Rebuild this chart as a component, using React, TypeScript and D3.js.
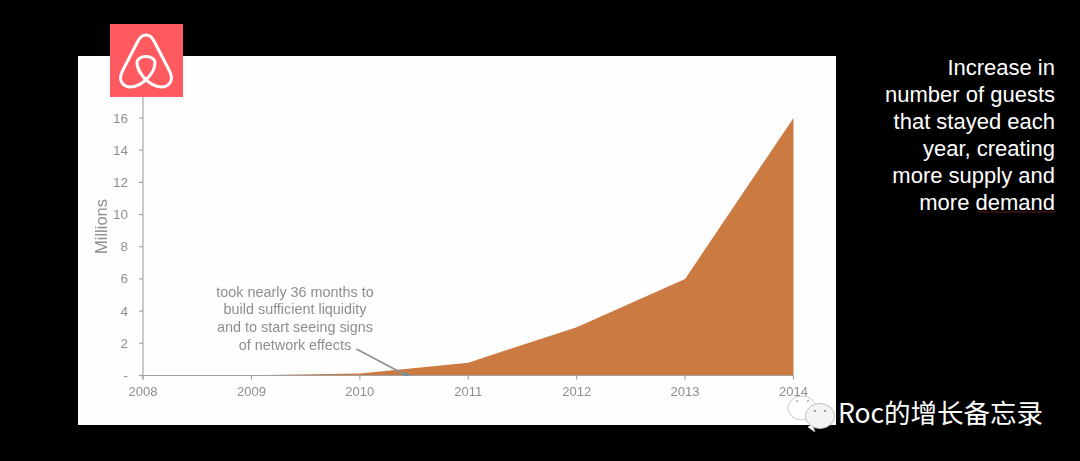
import React from "react";
import * as d3 from "d3";

const years = [2008, 2009, 2010, 2011, 2012, 2013, 2014];
const guests = [0, 0.02, 0.12, 0.8, 3, 6, 16];
const yTicks = [0, 2, 4, 6, 8, 10, 12, 14, 16];
const noteLines = ["took nearly 36 months to", "build sufficient liquidity", "and to start seeing signs", "of network effects"];
const sideLines = ["Increase in", "number of guests", "that stayed each", "year, creating", "more supply and", "more demand"];
const watermark = "Roc的增长备忘录";

const sans = "'Liberation Sans', Arial, sans-serif";
const grey = "#8e8e8e";

export default function App() {
  const x = d3.scaleLinear().domain([2008, 2014]).range([143, 793.5]);
  const y = d3.scaleLinear().domain([0, 16]).range([375.5, 118]);
  const area = d3.area<number>().x((_, i) => x(years[i])).y0(y(0)).y1((d) => y(d)).curve(d3.curveLinear);
  return (
    <svg width={1080} height={461} style={{ position: "absolute", left: 0, top: 0, background: "#000" }} fontFamily={sans}>
      <defs>
        <filter id="soft" x="-5%" y="-5%" width="110%" height="110%"><feGaussianBlur stdDeviation="0.45" /></filter>
      </defs>
      <rect x={78} y={56} width={758} height={369} fill="#fefefe" />
      <g filter="url(#soft)">
        <path d={area(guests) ?? ""} fill="#cb7a42" />
        <line x1={x(2008)} x2={x(2008)} y1={y(0) + 4} y2={90} stroke="#a6a6a6" strokeWidth={1.2} />
        <line x1={x(2008)} x2={x(2014)} y1={y(0)} y2={y(0)} stroke="#a0a0a0" strokeWidth={1.2} />
        {yTicks.map((t) => (
          <g key={t}>
            <line x1={x(2008) - 4} x2={x(2008)} y1={y(t)} y2={y(t)} stroke="#a6a6a6" strokeWidth={1.2} />
            <text x={128} y={y(t) + 4.5} textAnchor="end" fontSize={13.5} fill={grey}>{t === 0 ? "-" : t}</text>
          </g>
        ))}
        {years.map((yr) => (
          <g key={yr}>
            <line x1={x(yr)} x2={x(yr)} y1={y(0)} y2={y(0) + 4} stroke="#a6a6a6" strokeWidth={1.2} />
            <text x={x(yr)} y={396} textAnchor="middle" fontSize={13} fill={grey}>{yr}</text>
          </g>
        ))}
        <text transform="translate(106.5,226.5) rotate(-90)" textAnchor="middle" fontSize={16.5} fill={grey}>Millions</text>
        {noteLines.map((l, i) => (
          <text key={l} x={295} y={296.5 + i * 17.7} textAnchor="middle" fontSize={14.4} fill={grey}>{l}</text>
        ))}
        <line x1={x(2010.43) - 50} y1={y(1.65)} x2={x(2010.43)} y2={y(0)} stroke="#8a8f8f" strokeWidth={1.6} />
        <path d={`M${x(2010.43) - 4},${y(0)} L${x(2010.43) - 1},${y(0) - 4} L${x(2010.43) + 4},${y(0)} Z`} fill="#6f8f96" />
      </g>
      <rect x={110} y={24} width={73} height={73} fill="#ff5a5f" />
      <path
        d="M146 81 C141 74,137 68,137 63 C137 59,141 56.5,146 56.5 C151 56.5,155 59,155 63 C155 72,143 87,130 87 C124 87,120.5 82,120.5 78 C120.5 74,123 70,125 66 L138 41 C140 37,143 35,146 35 C149 35,152 37,154 41 L167 66 C169 70,171.5 74,171.5 78 C171.5 82,168 87,162 87 C149 87,137 72,137 63"
        fill="none" stroke="#fff" strokeWidth={3} strokeLinejoin="round"
      />
      {sideLines.map((l, i) => (
        <text key={l} x={1055} y={75 + i * 27} textAnchor="end" fontSize={22} fill="#fff" fontFamily="'Liberation Sans', sans-serif">{l}</text>
      ))}
      <line x1={978} x2={1055} y1={212} y2={212} stroke="#a33" strokeWidth={0.7} opacity={0.8} />
      <g>
        <ellipse cx={802} cy={408} rx={14} ry={12} fill="#fff" stroke="#ccc" strokeWidth={1} />
        <circle cx={797} cy={401} r={1} fill="#aaa" /><circle cx={808} cy={401} r={1} fill="#aaa" />
        <path d="M808 427 L815 432 L812 424 Z" fill="#fff" stroke="#bbb" strokeWidth={0.8} />
        <ellipse cx={820} cy={416} rx={14.5} ry={12.5} fill="#f4f4f4" stroke="#bbb" strokeWidth={1} />
        <circle cx={815} cy={411} r={1.1} fill="#888" /><circle cx={825} cy={411} r={1.1} fill="#888" />
      </g>
      <text x={838} y={423} fontSize={26.5} fill="#fff" fontFamily="'Noto Sans CJK SC', sans-serif">{watermark}</text>
    </svg>
  );
}
